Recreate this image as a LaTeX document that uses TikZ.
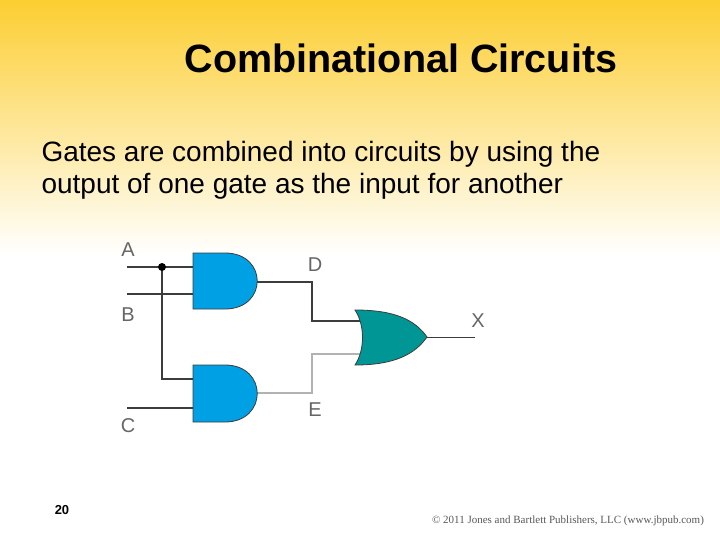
\documentclass[tikz,border=0pt]{standalone}
\usepackage{fontspec}
\setmainfont{Liberation Sans}
\newfontfamily\serifcr{Liberation Serif}
\definecolor{topy}{RGB}{252,206,50}
\definecolor{andc}{RGB}{0,160,228}
\definecolor{orc}{RGB}{0,150,150}
\definecolor{wirec}{RGB}{60,60,60}
\begin{document}
\begin{tikzpicture}[x=1pt,y=-1pt,
  wire/.style={draw=wirec,line width=2.4pt},
  gate/.style={draw=wirec,line width=0.8pt},
  lbl/.style={font=\fontsize{20}{22}\selectfont,text=gray!80!black}]
\useasboundingbox (0,0) rectangle (720,540);
\fill[white] (0,0) rectangle (720,540);
\shade[top color=topy,bottom color=white] (0,0) rectangle (720,255);
\node[font=\bfseries\fontsize{39.5}{44}\selectfont] (title) at (401,58) {Combinational Circuits};
\node[anchor=west,align=left,font=\fontsize{28}{32}\selectfont] (body) at (38,170) {Gates are combined into circuits by using the\\output of one gate as the input for another};
% gates
\coordinate (a1) at (193,267); \coordinate (b1) at (193,294);
\coordinate (a2) at (193,379); \coordinate (c2) at (193,408);
\coordinate (A) at (127,267); \coordinate (B) at (127,294); \coordinate (C) at (127,408);
\coordinate (j) at (162,267);
\coordinate (d) at (257,282); \coordinate (e) at (257,393);
\coordinate (o1) at (360,321); \coordinate (o2) at (360,354);
\coordinate (x) at (427,337); \coordinate (X) at (475,337);
\draw[wire] (A) -- (a1);
\draw[wire] (B) -- (b1);
\draw[wire] (C) -- (c2);
\draw[wire] (j) -- (162,379) -- (a2);
\fill (j) circle (4);
\draw[wire] (d) -- (312,282) -- (312,321) -- (o1);
\draw[wire,draw=gray!60] (e) -- (312,393) -- (312,354) -- (o2);
\draw[draw=wirec,line width=1pt] (x) -- (X);
\path[gate,fill=andc] (193,253) -- (225,253) .. controls (268,253) and (268,309) .. (225,309) -- (193,309) -- cycle;
\path[gate,fill=andc] (193,365) -- (225,365) .. controls (268,365) and (268,422) .. (225,422) -- (193,422) -- cycle;
\path[gate,fill=orc] (355,310) .. controls (395,310) and (415,320) .. (427,337) .. controls (415,354) and (395,365) .. (355,365) .. controls (365,350) and (365,325) .. (355,310) -- cycle;
\node[lbl] (lA) at (128,250) {A};
\node[lbl] (lB) at (128,315) {B};
\node[lbl] (lC) at (128,426) {C};
\node[lbl] (lD) at (315,265) {D};
\node[lbl] (lE) at (315,410) {E};
\node[lbl] (lX) at (478,321) {X};
\node[font=\bfseries\fontsize{13}{15}\selectfont] (pg) at (62,510) {20};
\node[font=\serifcr\fontsize{11}{13}\selectfont,text=gray!70!black] (cr) at (568,521) {\textcopyright{} 2011 Jones and Bartlett Publishers, LLC (www.jbpub.com)};
\end{tikzpicture}
\end{document}
